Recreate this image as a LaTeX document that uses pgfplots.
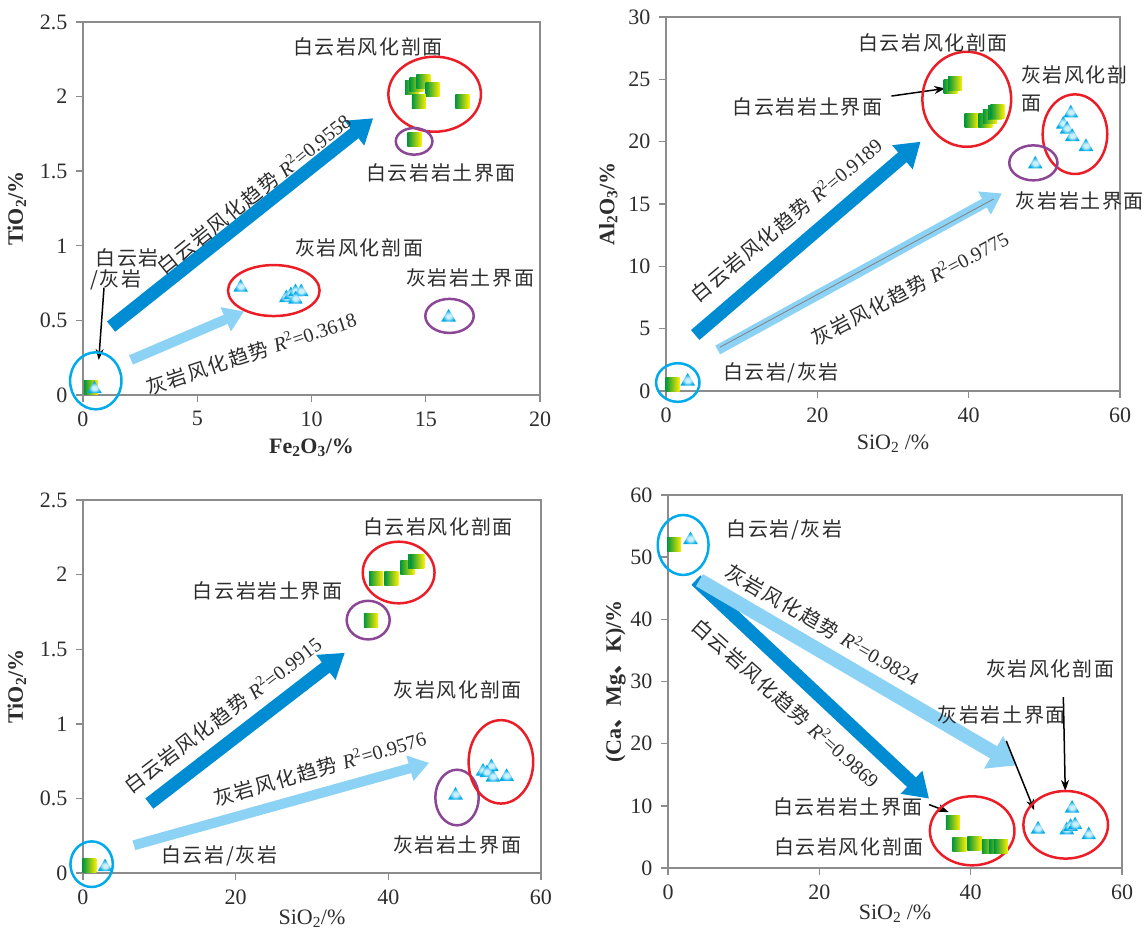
\documentclass[border=0pt]{standalone}
\usepackage{fontspec}
\setmainfont{Liberation Serif}
\newfontfamily\cjk{Noto Sans CJK SC}[LetterSpace=8]
\usepackage{pgfplots}
\pgfplotsset{compat=1.18}
\usetikzlibrary{arrows.meta}

\definecolor{sqgreen}{RGB}{0,150,60}
\definecolor{sqyellow}{RGB}{255,240,0}
\definecolor{triblue}{RGB}{0,170,230}
\definecolor{trilight}{RGB}{205,240,255}
\definecolor{dblue}{RGB}{0,140,210}
\definecolor{lblue}{RGB}{140,210,245}
\definecolor{ered}{RGB}{235,30,40}
\definecolor{epurple}{RGB}{140,70,150}
\definecolor{eblue}{RGB}{0,170,235}
\definecolor{framegray}{RGB}{140,140,140}
\definecolor{txt}{RGB}{45,45,45}

\pgfdeclarehorizontalshading{gyshade}{100bp}{color(0bp)=(sqgreen); color(25bp)=(sqgreen); color(75bp)=(sqyellow); color(100bp)=(sqyellow)}
\pgfdeclareradialshading{trishade}{\pgfpoint{0bp}{-5bp}}{color(0bp)=(trilight); color(8bp)=(trilight); color(22bp)=(triblue); color(50bp)=(triblue)}

\pgfdeclareplotmark{gsq}{%
  \pgfpathrectangle{\pgfqpoint{-\pgfplotmarksize}{-\pgfplotmarksize}}{\pgfqpoint{2\pgfplotmarksize}{2\pgfplotmarksize}}%
  \pgfshadepath{gyshade}{0}%
  \pgfusepath{discard}%
}
\pgfdeclareplotmark{btri}{%
  \pgfpathmoveto{\pgfqpoint{0pt}{\pgfplotmarksize}}%
  \pgfpathlineto{\pgfqpoint{-1.05\pgfplotmarksize}{-0.8\pgfplotmarksize}}%
  \pgfpathlineto{\pgfqpoint{1.05\pgfplotmarksize}{-0.8\pgfplotmarksize}}%
  \pgfpathclose
  \pgfshadepath{trishade}{0}%
  \pgfusepath{discard}%
}

\newcommand\Rsq[1]{{\rmfamily\itshape R}\textsuperscript{\rmfamily 2}{\rmfamily =#1}}

\pgfplotsset{
  myax/.style={scale only axis, anchor=south west, clip=false,
    axis line style={draw=framegray, line width=1.6pt},
    tick style={draw=framegray, line width=1.4pt},
    tick align=outside, xtick pos=bottom, ytick pos=left, major tick length=7pt,
    tick label style={font=\fontsize{22}{22}\selectfont, text=txt},
    y tick label style={xshift=-5pt},
    x tick label style={yshift=-6pt},
    label style={font=\fontsize{22}{22}\selectfont, text=txt},
    xlabel style={yshift=-6pt},
    /pgf/number format/assume math mode=true},
  sqm/.style={only marks, mark=gsq, mark size=7pt},
  trm/.style={only marks, mark=btri, mark size=7pt},
}
\tikzset{
  cl/.style={font=\cjk\fontsize{20}{28}\selectfont, text=txt, inner sep=0pt},
  darrow/.style={draw=dblue, line width=13pt, -{Triangle[length=24pt,width=30pt]}},
  larrow/.style={draw=lblue, line width=10pt, -{Triangle[length=20pt,width=25pt]}},
  barrow/.style={draw=black, line width=1.5pt, -{Stealth[length=11pt,width=8pt]}},
  ew/.style={line width=2.5pt},
}

\begin{document}
\begin{tikzpicture}
\useasboundingbox (0,0) rectangle (1148pt,929pt);

% ---------- Plot 1 ----------
\begin{axis}[myax, at={(83pt,534pt)}, width=457pt, height=373pt,
  xmin=0, xmax=20, ymin=0, ymax=2.5,
  xtick={0,5,10,15,20}, ytick={0,0.5,1,1.5,2,2.5},
  ylabel style={yshift=7pt},
  xlabel={\bfseries Fe\textsubscript{2}O\textsubscript{3}/\%},
  ylabel={\bfseries TiO\textsubscript{2}/\%}]
\draw[darrow] (axis cs:1.23,0.458) -- (axis cs:12.7,1.855);
\draw[larrow] (axis cs:2.1,0.235) -- (axis cs:7.05,0.56);
\draw[barrow] (axis cs:0.92,0.72) -- (axis cs:0.69,0.235);
\draw[eblue, ew] (axis cs:0.56,0.095) ellipse [x radius=25.7pt, y radius=28.5pt];
\draw[ered, ew] (axis cs:15.39,2.016) ellipse [x radius=46.3pt, y radius=37.5pt];
\draw[epurple, ew] (axis cs:14.49,1.70) ellipse [x radius=18.3pt, y radius=13.3pt];
\draw[ered, ew] (axis cs:8.35,0.70) ellipse [x radius=45.8pt, y radius=25.5pt];
\draw[epurple, ew] (axis cs:16.04,0.53) ellipse [x radius=24.2pt, y radius=17pt];
\addplot[sqm] coordinates {(0.35,0.05) (14.4,2.06) (14.6,2.08) (14.9,2.10) (15.3,2.05) (14.7,1.97) (16.6,1.97) (14.5,1.71)};
\addplot[trm] coordinates {(0.5,0.05) (6.9,0.73) (8.9,0.66) (9.1,0.68) (9.3,0.70) (9.55,0.70) (9.3,0.65) (16.0,0.53)};
\node[cl] at (axis cs:12.47,2.335) {白云岩风化剖面};
\node[cl] at (axis cs:15.67,1.49) {白云岩岩土界面};
\node[cl] at (axis cs:12.08,0.985) {灰岩风化剖面};
\node[cl] at (axis cs:16.94,0.784) {灰岩岩土界面};
\node[cl] at (axis cs:1.94,0.918) {白云岩};
\node[cl] at (axis cs:1.44,0.77) {/灰岩};
\node[cl, rotate=39] at (axis cs:7.47,1.347) {白云岩风化趋势 \Rsq{0.9558}};
\node[cl, rotate=18.4] at (axis cs:7.36,0.28) {灰岩风化趋势 \Rsq{0.3618}};
\end{axis}

% ---------- Plot 2 ----------
\begin{axis}[myax, at={(666pt,538pt)}, width=454pt, height=374pt,
  xmin=0, xmax=60, ymin=0, ymax=30,
  xtick={0,20,40,60}, ytick={0,5,10,15,20,25,30},
  ylabel style={yshift=4pt},
  xlabel={SiO\textsubscript{2} /\%},
  ylabel={\bfseries Al\textsubscript{2}O\textsubscript{3}/\%}]
\draw[darrow] (axis cs:3.86,4.49) -- (axis cs:33.65,20.0);
\draw[larrow] (axis cs:6.83,3.29) -- (axis cs:44.4,15.85);
\draw[gray, line width=0.8pt] (axis cs:7.1,3.5) -- (axis cs:43.3,15.4);
\draw[barrow] (axis cs:29.8,23.66) -- (axis cs:36.9,24.27);
\draw[eblue, ew] (axis cs:1.56,0.68) ellipse [x radius=21.7pt, y radius=19.3pt];
\draw[ered, ew] (axis cs:39.75,23.4) ellipse [x radius=44.4pt, y radius=47.5pt];
\draw[ered, ew] (axis cs:54.05,20.6) ellipse [x radius=32.3pt, y radius=39.8pt];
\draw[epurple, ew] (axis cs:48.55,18.3) ellipse [x radius=24.1pt, y radius=17.5pt];
\addplot[sqm] coordinates {(0.86,0.54) (37.6,24.4) (38.2,24.7) (40.4,21.7) (42.2,21.7) (42.8,22.0) (43.5,22.3) (43.8,22.4)};
\addplot[trm] coordinates {(2.87,0.88) (53.5,22.4) (52.5,21.5) (53.0,21.1) (53.7,20.5) (55.5,19.7) (48.8,18.3)};
\node[cl] at (axis cs:35.3,27.9) {白云岩风化剖面};
\node[cl] at (axis cs:18.7,22.75) {白云岩岩土界面};
\node[cl, anchor=north west, align=left] at (axis cs:46.9,26.1) {灰岩风化剖\\面};
\node[cl] at (axis cs:54.7,15.24) {灰岩岩土界面};
\node[cl] at (axis cs:15.2,1.47) {白云岩/灰岩};
\node[cl, rotate=39.9] at (axis cs:15.9,13.7) {白云岩风化趋势 \Rsq{0.9189}};
\node[cl, rotate=28] at (axis cs:32.2,8.23) {灰岩风化趋势 \Rsq{0.9775}};
\end{axis}

% ---------- Plot 3 ----------
\begin{axis}[myax, at={(83pt,56pt)}, width=458pt, height=373pt,
  xmin=0, xmax=60, ymin=0, ymax=2.5,
  xtick={0,20,40,60}, ytick={0,0.5,1,1.5,2,2.5},
  ylabel style={yshift=7pt}, xlabel style={yshift=7pt},
  xlabel={SiO\textsubscript{2}/\%},
  ylabel={\bfseries TiO\textsubscript{2}/\%}]
\draw[darrow] (axis cs:8.69,0.465) -- (axis cs:34.3,1.476);
\draw[larrow] (axis cs:6.67,0.186) -- (axis cs:45.35,0.738);
\draw[eblue, ew] (axis cs:1.13,0.059) ellipse [x radius=21.2pt, y radius=22.8pt];
\draw[ered, ew] (axis cs:41.35,2.014) ellipse [x radius=35.9pt, y radius=30.8pt];
\draw[epurple, ew] (axis cs:37.36,1.695) ellipse [x radius=21.5pt, y radius=19.3pt];
\draw[epurple, ew] (axis cs:49.0,0.506) ellipse [x radius=21.7pt, y radius=27.8pt];
\draw[ered, ew] (axis cs:54.75,0.745) ellipse [x radius=32.3pt, y radius=41.7pt];
\addplot[sqm] coordinates {(0.85,0.05) (37.7,1.695) (38.4,1.975) (40.4,1.975) (42.5,2.05) (43.5,2.09) (43.8,2.09)};
\addplot[trm] coordinates {(2.9,0.05) (48.8,0.53) (52.4,0.69) (53.5,0.72) (52.9,0.68) (53.7,0.65) (55.5,0.655)};
\node[cl] at (axis cs:46.5,2.32) {白云岩风化剖面};
\node[cl] at (axis cs:24.2,1.89) {白云岩岩土界面};
\node[cl] at (axis cs:49.1,1.23) {灰岩风化剖面};
\node[cl] at (axis cs:49.0,0.186) {灰岩岩土界面};
\node[cl] at (axis cs:17.86,0.112) {白云岩/灰岩};
\node[cl, rotate=37.4] at (axis cs:18.3,1.058) {白云岩风化趋势 \Rsq{0.9915}};
\node[cl, rotate=16.2] at (axis cs:31.0,0.70) {灰岩风化趋势 \Rsq{0.9576}};
\end{axis}

% ---------- Plot 4 ----------
\begin{axis}[myax, at={(668pt,61pt)}, width=454pt, height=373pt,
  xmin=0, xmax=60, ymin=0, ymax=60,
  xtick={0,20,40,60}, ytick={0,10,20,30,40,50,60},
  ylabel style={yshift=-2pt}, xlabel style={yshift=7pt},
  xlabel={SiO\textsubscript{2} /\%},
  ylabel={\bfseries (Ca{\cjk 、}Mg{\cjk 、}K)/\%}]
\draw[darrow] (axis cs:3.68,46.3) -- (axis cs:34.5,11.16);
\draw[larrow, line width=14pt, -{Triangle[length=26pt,width=36pt]}] (axis cs:4.16,46.3) -- (axis cs:46.0,16.5);
\draw[barrow] (axis cs:44.7,20.45) -- (axis cs:48.4,9.29);
\draw[barrow] (axis cs:52.25,27.5) -- (axis cs:52.5,12.4);
\draw[barrow] (axis cs:34.5,10.2) -- (axis cs:37.1,9.0);
\draw[eblue, ew] (axis cs:2.0,51.96) ellipse [x radius=25.4pt, y radius=30pt];
\draw[ered, ew] (axis cs:40.2,5.98) ellipse [x radius=42.3pt, y radius=34.5pt];
\draw[ered, ew] (axis cs:52.56,6.95) ellipse [x radius=42.3pt, y radius=33.8pt];
\addplot[sqm] coordinates {(0.81,51.96) (37.66,7.25) (38.5,3.8) (40.5,3.9) (42.4,3.5) (43.4,3.5) (44.0,3.4)};
\addplot[trm] coordinates {(2.97,53.0) (48.9,6.44) (53.4,9.8) (52.7,6.33) (53.2,6.87) (53.8,7.14) (55.6,5.53)};
\node[cl] at (axis cs:15.4,54.4) {白云岩/灰岩};
\node[cl] at (axis cs:50.5,32.1) {灰岩风化剖面};
\node[cl] at (axis cs:44.1,24.7) {灰岩岩土界面};
\node[cl] at (axis cs:23.8,9.8) {白云岩岩土界面};
\node[cl] at (axis cs:23.9,3.4) {白云岩风化剖面};
\node[cl, rotate=-30] at (axis cs:20.4,39.1) {灰岩风化趋势 \Rsq{0.9824}};
\node[cl, rotate=-41.7] at (axis cs:15.6,26.5) {白云岩风化趋势 \Rsq{0.9869}};
\end{axis}
\end{tikzpicture}
\end{document}
